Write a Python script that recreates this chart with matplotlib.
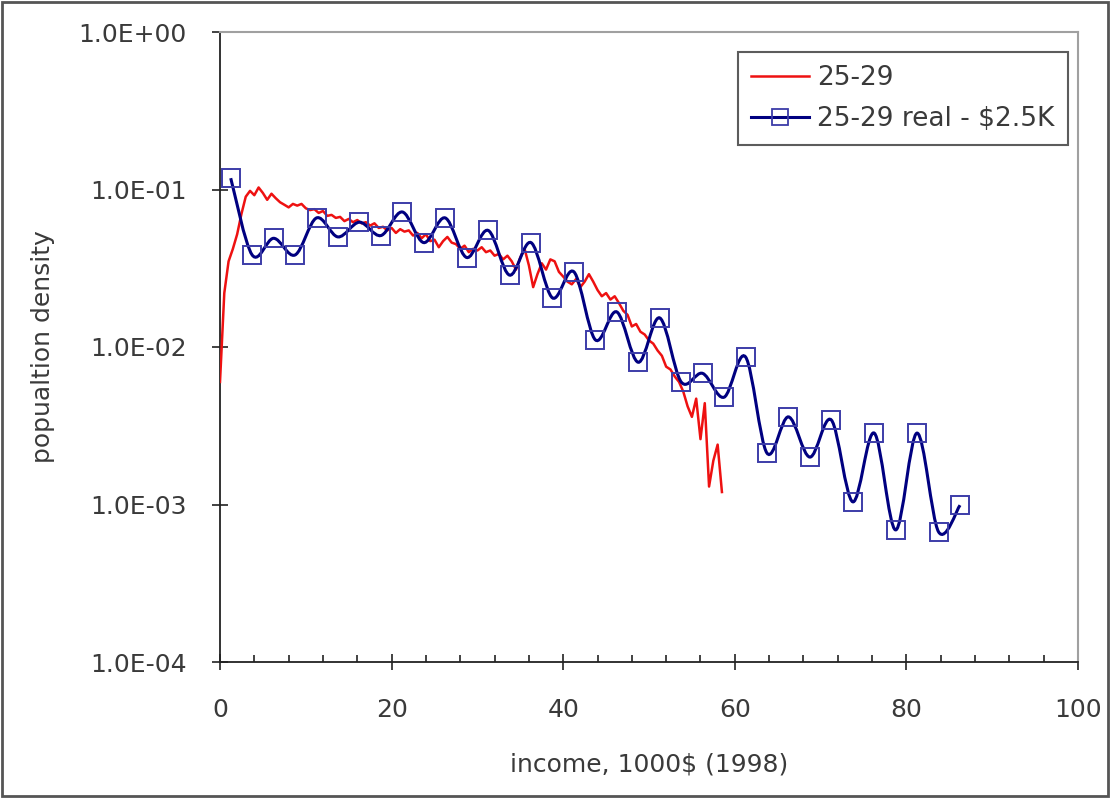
import numpy as np
import matplotlib
matplotlib.use('Agg')
import matplotlib.pyplot as plt
from matplotlib.ticker import FixedLocator, MultipleLocator, FuncFormatter
from matplotlib.patches import Rectangle, PathPatch
from matplotlib.path import Path
from matplotlib.lines import Line2D

# --------------------------------------------
# DATA
# --------------------------------------------
# red curve: sampled every 0.5 (1000$), starting at 0
red_y = [
    0.006, 0.022, 0.035, 0.042, 0.052, 0.070, 0.090, 0.098, 0.092, 0.103,
    0.095, 0.086, 0.094, 0.088, 0.083, 0.080, 0.077, 0.081, 0.079, 0.081,
    0.076, 0.074, 0.075, 0.071, 0.073, 0.068, 0.069, 0.066, 0.067, 0.063,
    0.065, 0.062, 0.064, 0.061, 0.062, 0.059, 0.061, 0.057, 0.058, 0.055,
    0.057, 0.053, 0.056, 0.054, 0.055, 0.051, 0.053, 0.049, 0.052, 0.047,
    0.048, 0.043, 0.047, 0.050, 0.046, 0.045, 0.042, 0.044, 0.040, 0.042,
    0.041, 0.043, 0.040, 0.041, 0.038, 0.039, 0.036, 0.038, 0.035, 0.031,
    0.037, 0.042, 0.033, 0.024, 0.029, 0.034, 0.031, 0.036, 0.035, 0.030,
    0.028, 0.026, 0.025, 0.027, 0.024, 0.026, 0.029, 0.026, 0.023, 0.021,
    0.022, 0.020, 0.021, 0.019, 0.017, 0.016, 0.0135, 0.014, 0.0125, 0.012,
    0.011, 0.0105, 0.0095, 0.0088, 0.0075, 0.0072, 0.0065, 0.006, 0.0052, 0.0042,
    0.0036, 0.0047, 0.0026, 0.0044, 0.0013, 0.0019, 0.0024, 0.0012,
]
red_x = np.arange(len(red_y)) * 0.5

blue_x = [1.25, 3.75, 6.25, 8.75, 11.25, 13.75, 16.25, 18.75, 21.25, 23.75,
          26.25, 28.75, 31.25, 33.75, 36.25, 38.75, 41.25, 43.75, 46.25, 48.75,
          51.25, 53.75, 56.25, 58.75, 61.25, 63.75, 66.25, 68.75, 71.25, 73.75,
          76.25, 78.75, 81.25, 83.75, 86.25]
blue_y = [0.118, 0.0384, 0.049, 0.0384, 0.066, 0.050, 0.062, 0.051, 0.072, 0.046,
          0.066, 0.037, 0.055, 0.0286, 0.046, 0.0205, 0.030, 0.0111, 0.0167, 0.0080,
          0.0153, 0.0060, 0.0068, 0.0048, 0.00865, 0.00212, 0.0036, 0.0020, 0.00344, 0.00104,
          0.00284, 0.00069, 0.00284, 0.00067, 0.00099]

y_ticks = [1e-4, 1e-3, 1e-2, 1e-1, 1e0]


def smooth_path(xs, ys):
    # Excel-style smoothed line: cubic Bezier segments, built in (x, log10 y)
    P = np.column_stack([xs, np.log10(ys)])
    n = len(P)
    verts = [P[0]]
    codes = [Path.MOVETO]
    for i in range(n - 1):
        a = P[i - 1] if i > 0 else P[i]
        d = P[i + 2] if i + 2 < n else P[i + 1]
        c1 = P[i] + (P[i + 1] - a) / 6
        c2 = P[i + 1] - (d - P[i]) / 6
        verts += [c1, c2, P[i + 1]]
        codes += [Path.CURVE4] * 3
    verts = np.array(verts)
    verts[:, 1] = 10 ** verts[:, 1]
    return Path(verts, codes)


# --------------------------------------------
# PLOT
# --------------------------------------------
plt.rcParams['font.family'] = ['DejaVu Sans']
txt = '#3a3a3a'
navy = '#000080'
mk_edge = '#3c3ca8'

fig = plt.figure(figsize=(11.1, 7.98), dpi=100)
ax = fig.add_axes([220 / 1110, 136 / 798, 858 / 1110, 630 / 798])

ax.plot(red_x, red_y, color='#ee1111', lw=1.8, zorder=3)
ax.add_patch(PathPatch(smooth_path(blue_x, blue_y), fill=False, edgecolor=navy,
                       lw=2.2, zorder=4))
ax.plot(blue_x, blue_y, ls='none', marker='s', ms=13, mfc='none',
        mec=mk_edge, mew=1.4, zorder=5)

ax.set_yscale('log')
ax.set_ylim(1e-4, 1)
ax.set_xlim(0, 100)
ax.yaxis.set_major_locator(FixedLocator(y_ticks))
ax.yaxis.set_minor_locator(FixedLocator([]))
ax.yaxis.set_major_formatter(FuncFormatter(lambda v, p: f'{v:.1E}'))
ax.xaxis.set_major_locator(MultipleLocator(20))
ax.xaxis.set_minor_locator(MultipleLocator(4))

ax.tick_params(axis='both', which='major', direction='inout', length=12,
               width=1.2, color='#222222', labelsize=18, labelcolor=txt)
ax.tick_params(axis='x', which='major', pad=20)
ax.tick_params(axis='y', which='major', pad=18)
ax.tick_params(axis='x', which='minor', direction='in', length=5,
               width=1.2, color='#222222')

for s in ['left', 'bottom']:
    ax.spines[s].set_color('#222222')
    ax.spines[s].set_linewidth(1.3)
for s in ['top', 'right']:
    ax.spines[s].set_color('#a0a0a0')
    ax.spines[s].set_linewidth(1.5)

ax.set_xlabel('income, 1000$ (1998)', fontsize=18, color=txt, labelpad=22)
ax.set_ylabel('popualtion density', fontsize=18, color=txt, labelpad=17)

handles = [
    Line2D([], [], color='#ee1111', lw=1.8),
    Line2D([], [], color=navy, lw=2.2, marker='s', ms=11, mfc='none',
           mec=mk_edge, mew=1.3),
]
leg = ax.legend(handles, ['25-29', '25-29 real - $2.5K'], loc='upper right',
                bbox_to_anchor=(0.988, 0.968), fontsize=19, frameon=True,
                fancybox=False, borderpad=0.5, handlelength=2.2,
                handletextpad=0.3, labelspacing=0.55, borderaxespad=0)
leg.get_frame().set_edgecolor('#333333')
leg.get_frame().set_linewidth(1.5)
for t in leg.get_texts():
    t.set_color(txt)

# outer border of the image
fig.patches.append(Rectangle((0.002, 0.003), 0.996, 0.994, transform=fig.transFigure,
                             fill=False, edgecolor='#555555', lw=2))

fig.savefig('out.png', dpi=100)
